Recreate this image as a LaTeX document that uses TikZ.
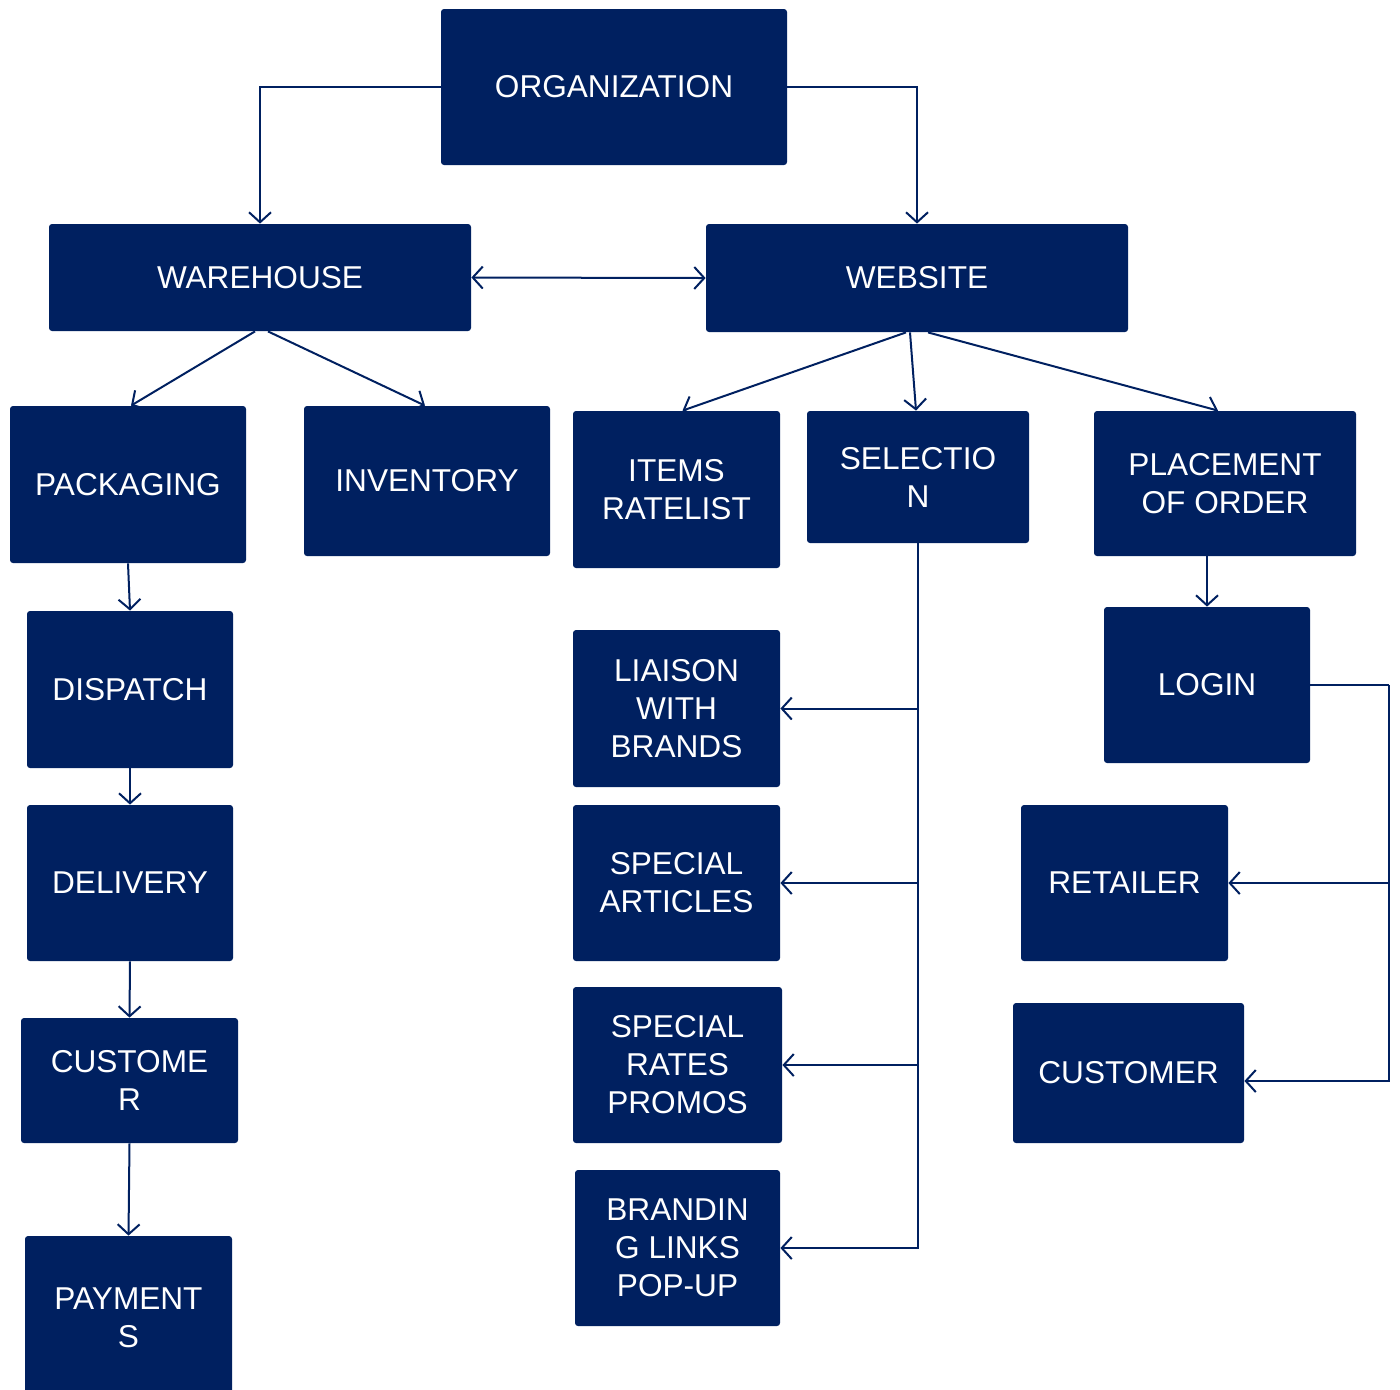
\documentclass[tikz,border=0pt]{standalone}
\usepackage{fontspec}
\setmainfont{Liberation Sans}
\usetikzlibrary{arrows.meta,calc}
\definecolor{navy}{HTML}{002060}
\tikzset{
  box/.style={fill=navy, rounded corners=1.5pt, inner sep=0pt, text=white,
    align=center, font=\fontsize{15.8}{19}\selectfont},
  link/.style={draw=navy, line width=1pt,
    -{Straight Barb[length=5pt,width=11pt]}},
  both/.style={draw=navy, line width=1pt,
    {Straight Barb[length=5pt,width=11pt]}-{Straight Barb[length=5pt,width=11pt]}},
  plain/.style={draw=navy, line width=1pt}
}
% a box spanning two corners given in pixel units
\newcommand{\boxspan}[6]{\node[box,
  minimum width={(#4-#2)*0.5pt}, minimum height={(#5-#3)*0.5pt}]
  (#1) at ({(#2+#4)/2},{(#3+#5)/2}) {#6};}
\begin{document}
\begin{tikzpicture}[x=0.5pt, y=-0.5pt]
\useasboundingbox (0,0) rectangle (1400,1389);
% top levels
\boxspan{org}{441}{9}{787}{165}{ORGANIZATION}
\boxspan{wh}{49}{224}{471}{331}{WAREHOUSE}
\boxspan{web}{706}{224}{1128}{332}{WEBSITE}
% second row
\boxspan{pack}{10}{406}{246}{563}{PACKAGING}
\boxspan{inv}{304}{406}{550}{556}{INVENTORY}
\boxspan{items}{573}{411}{780}{568}{ITEMS\\RATELIST}
\boxspan{sel}{807}{411}{1029}{543}{SELECTIO\\N}
\boxspan{place}{1094}{411}{1356}{556}{PLACEMENT\\OF ORDER}
% warehouse chain
\boxspan{disp}{27}{611}{233}{768}{DISPATCH}
\boxspan{deliv}{27}{805}{233}{961}{DELIVERY}
\boxspan{cust}{21}{1018}{238}{1143}{CUSTOME\\R}
\boxspan{pay}{25}{1236}{232}{1400}{PAYMENT\\S}
% selection branches
\boxspan{liais}{573}{630}{780}{787}{LIAISON\\WITH\\BRANDS}
\boxspan{spart}{573}{805}{780}{961}{SPECIAL\\ARTICLES}
\boxspan{sprate}{573}{987}{782}{1143}{SPECIAL\\RATES\\PROMOS}
\boxspan{brand}{575}{1170}{780}{1326}{BRANDIN\\G LINKS\\POP-UP}
% order branches
\boxspan{login}{1104}{607}{1310}{763}{LOGIN}
\boxspan{ret}{1021}{805}{1228}{961}{RETAILER}
\boxspan{cust2}{1013}{1003}{1244}{1143}{CUSTOMER}

% connectors
\draw[link] (org.west) -| (wh.north);
\draw[link] (org.east) -| (web.north);
\draw[both] (wh.east) -- (web.west);
\draw[link] ([xshift=-2.5pt]wh.south) -- ([xshift=1.5pt]pack.north);
\draw[link] ([xshift=4pt]wh.south) -- ([xshift=-1pt]inv.north);
\draw[link] ([xshift=-5.5pt]web.south) -- ([xshift=3pt]items.north);
\draw[link] ([xshift=-3.5pt]web.south) -- ([xshift=-1pt]sel.north);
\draw[link] ([xshift=5.5pt]web.south) -- ([xshift=-3.5pt]place.north);
\draw[link] (pack.south) -- (disp.north);
\draw[link] (disp.south) -- (deliv.north);
\draw[link] (deliv.south) -- (cust.north);
\draw[link] (cust.south) -- (pay.north);
% selection bus
\draw[link] (sel.south) |- (brand.east);
\draw[link] (sel.south |- liais.east) -- (liais.east);
\draw[link] (sel.south |- spart.east) -- (spart.east);
\draw[link] (sel.south |- sprate.east) -- (sprate.east);
% order bus
\draw[link] (login.north |- place.south) -- (login.north);
\coordinate (lbus) at ($(login.east)+(39.5pt,0)$);
\draw[plain] (login.east) -- (lbus);
\draw[link] (lbus) |- ([yshift=-4pt]cust2.east);
\draw[link] (lbus |- ret.east) -- (ret.east);
\end{tikzpicture}
\end{document}
